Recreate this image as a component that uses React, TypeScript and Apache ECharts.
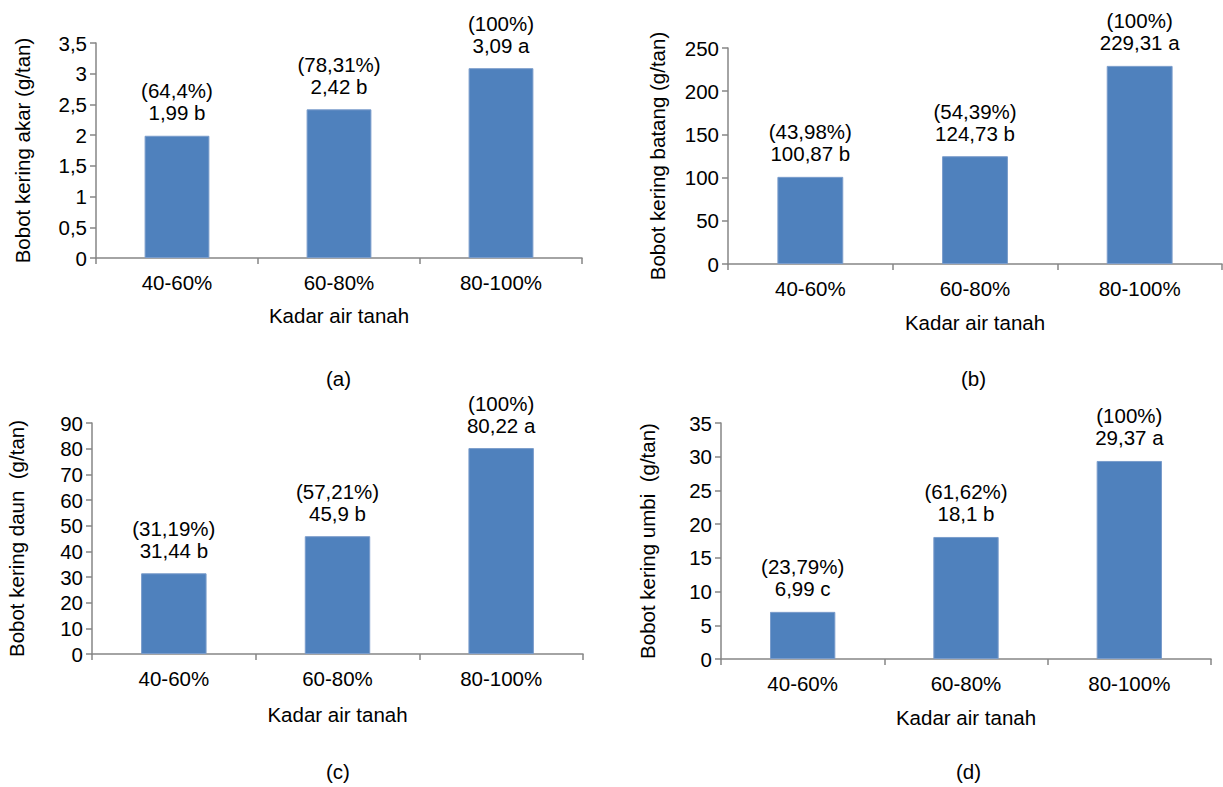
import React, { useEffect, useRef } from "react";
import * as echarts from "echarts";

const categories = ["40-60%", "60-80%", "80-100%"];

const akarValues = [1.99, 2.42, 3.09];
const akarPercents = ["64,4%", "78,31%", "100%"];
const akarLetters = ["b", "b", "a"];

const batangValues = [100.87, 124.73, 229.31];
const batangPercents = ["43,98%", "54,39%", "100%"];
const batangLetters = ["b", "b", "a"];

const daunValues = [31.44, 45.9, 80.22];
const daunPercents = ["31,19%", "57,21%", "100%"];
const daunLetters = ["b", "b", "a"];

const umbiValues = [6.99, 18.1, 29.37];
const umbiPercents = ["23,79%", "61,62%", "100%"];
const umbiLetters = ["c", "b", "a"];

const xAxisName = "Kadar air tanah";
const panelTags = ["(a)", "(b)", "(c)", "(d)"];

const FONT = "'Liberation Sans', Arial, sans-serif";
const FS = 20.5;
const AXIS_COLOR = "#868686";
const BAR_COLOR = "#4F81BD";

const fmtNum = (v: number) => String(v).replace(".", ",");

export default function App() {
  const ref = useRef<HTMLDivElement>(null);

  useEffect(() => {
    if (!ref.current) return;
    const chart = echarts.init(ref.current, undefined, { renderer: "svg" });

    const panels = [
      { grid: { left: 96, top: 43, width: 486, height: 215 }, values: akarValues, percents: akarPercents, letters: akarLetters, max: 3.5, interval: 0.5, yName: "Bobot kering akar (g/tan)", nameGap: 63, xGap: 47 },
      { grid: { left: 728, top: 48, width: 494, height: 216 }, values: batangValues, percents: batangPercents, letters: batangLetters, max: 250, interval: 50, yName: "Bobot kering batang (g/tan)", nameGap: 60, xGap: 48 },
      { grid: { left: 92, top: 423, width: 491, height: 231 }, values: daunValues, percents: daunPercents, letters: daunLetters, max: 90, interval: 10, yName: "Bobot kering daun  (g/tan)", nameGap: 65, xGap: 50 },
      { grid: { left: 721, top: 423, width: 490, height: 236 }, values: umbiValues, percents: umbiPercents, letters: umbiLetters, max: 35, interval: 5, yName: "Bobot kering umbi  (g/tan)", nameGap: 63, xGap: 48 },
    ];

    const textStyle = { fontFamily: FONT, fontSize: FS, color: "#000" };

    const option: any = {
      animation: false,
      backgroundColor: "#fff",
      grid: panels.map((p) => ({ ...p.grid, containLabel: false })),
      xAxis: panels.map((p, i) => ({
        type: "category",
        gridIndex: i,
        data: categories,
        boundaryGap: true,
        name: xAxisName,
        nameLocation: "middle",
        nameGap: p.xGap,
        nameTextStyle: textStyle,
        axisLine: { lineStyle: { color: AXIS_COLOR, width: 1.5 } },
        axisTick: { show: true, interval: 0, alignWithLabel: false, length: 6, lineStyle: { color: AXIS_COLOR, width: 1.5 } },
        axisLabel: { ...textStyle, margin: 14, interval: 0 },
        splitLine: { show: false },
      })),
      yAxis: panels.map((p, i) => ({
        type: "value",
        gridIndex: i,
        min: 0,
        max: p.max,
        interval: p.interval,
        name: p.yName,
        nameLocation: "middle",
        nameGap: p.nameGap,
        nameRotate: 90,
        nameTextStyle: textStyle,
        axisLine: { show: true, lineStyle: { color: AXIS_COLOR, width: 1.5 } },
        axisTick: { show: true, length: 6, lineStyle: { color: AXIS_COLOR, width: 1.5 } },
        axisLabel: { ...textStyle, margin: 9, formatter: (v: number) => fmtNum(v) },
        splitLine: { show: false },
      })),
      series: panels.map((p, i) => ({
        type: "bar",
        xAxisIndex: i,
        yAxisIndex: i,
        data: p.values,
        barWidth: "40%",
        itemStyle: { color: BAR_COLOR, borderColor: "#7A9CCB", borderWidth: 1 },
        label: {
          show: true,
          position: "top",
          distance: 12,
          ...textStyle,
          lineHeight: 22,
          formatter: (params: any) =>
            "(" + p.percents[params.dataIndex] + ")\n" + fmtNum(p.values[params.dataIndex]) + " " + p.letters[params.dataIndex],
        },
      })),
      graphic: [
        { type: "text", left: 326, top: 368, style: { text: panelTags[0], font: `${FS}px ${FONT}`, fill: "#000" } },
        { type: "text", left: 961, top: 368, style: { text: panelTags[1], font: `${FS}px ${FONT}`, fill: "#000" } },
        { type: "text", left: 326, top: 761, style: { text: panelTags[2], font: `${FS}px ${FONT}`, fill: "#000" } },
        { type: "text", left: 956, top: 761, style: { text: panelTags[3], font: `${FS}px ${FONT}`, fill: "#000" } },
      ],
    };

    chart.setOption(option);
    return () => chart.dispose();
  }, []);

  return (
    <div
      ref={ref}
      style={{ position: "fixed", left: 0, top: 0, width: 1223, height: 787, background: "#fff" }}
    />
  );
}
